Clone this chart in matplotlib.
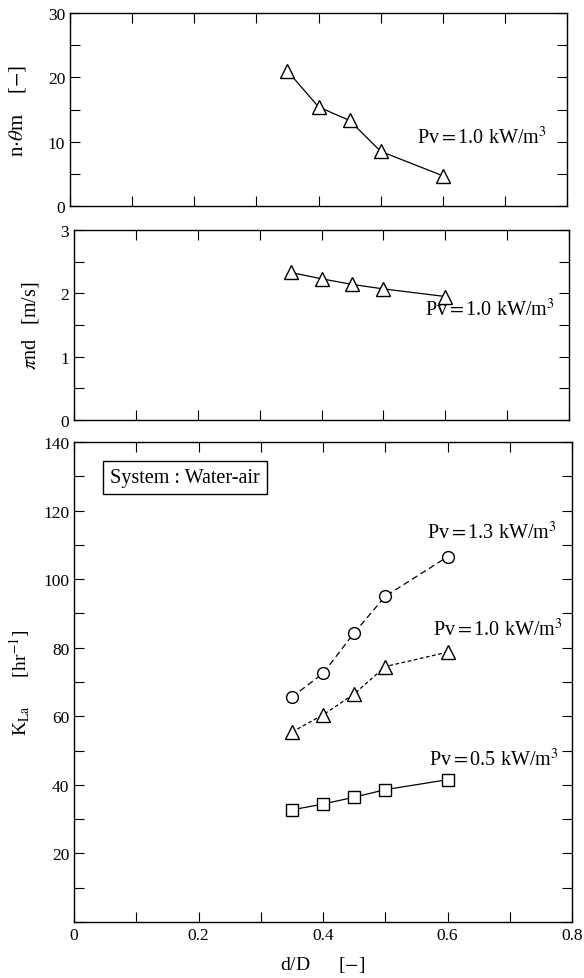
import numpy as np
import matplotlib.pyplot as plt
from matplotlib.ticker import MultipleLocator, FixedLocator, NullFormatter

plt.rcParams['font.family'] = ['Liberation Serif', 'DejaVu Serif']
plt.rcParams['mathtext.fontset'] = 'stix'

# data
dD = [0.35, 0.40, 0.45, 0.50, 0.60]
n_theta = [21.0, 15.4, 13.3, 8.5, 4.7]
pi_nd = [2.33, 2.23, 2.14, 2.07, 1.95]
kla_13 = [65.6, 72.5, 84.3, 95.0, 106.5]
kla_10 = [55.4, 60.4, 66.5, 74.5, 78.7]
kla_05 = [32.7, 34.4, 36.4, 38.6, 41.5]

fig = plt.figure(figsize=(5.84, 9.79), dpi=100)
ax1 = fig.add_axes([70/584, 1-207/979, 497/584, 193/979])
ax2 = fig.add_axes([74/584, 1-421/979, 495/584, 190/979])
ax3 = fig.add_axes([74/584, 1-923/979, 498/584, 480/979])

tri = dict(marker='^', ms=10, mfc='white', mec='black', mew=1.0, color='black', lw=0.9)
fs = 14.5

def style(ax):
    ax.set_xlim(0, 0.8)
    ax.xaxis.set_major_locator(MultipleLocator(0.1))
    ax.tick_params(direction='in', top=True, right=True, length=7, width=0.8, labelsize=12.5)
    ax.tick_params(which='minor', direction='in', top=True, right=True, length=7, width=0.8)
    for s in ax.spines.values():
        s.set_linewidth(1.0)

# top panel
ax1.plot(dD, n_theta, **tri)
style(ax1)
ax1.set_ylim(0, 30)
ax1.yaxis.set_major_locator(MultipleLocator(10))
ax1.yaxis.set_minor_locator(MultipleLocator(5))
ax1.xaxis.set_major_formatter(NullFormatter())
ax1.set_ylabel(r'n$\cdot\theta$m    [$-$]', fontsize=15, labelpad=14)
ax1.text(0.558, 10.7, 'Pv$=$1.0 kW/m$^3$', fontsize=fs, va='center')

# middle panel
ax2.plot(dD, pi_nd, **tri)
style(ax2)
ax2.set_ylim(0, 3)
ax2.yaxis.set_major_locator(MultipleLocator(1))
ax2.yaxis.set_minor_locator(MultipleLocator(0.5))
ax2.xaxis.set_major_formatter(NullFormatter())
ax2.set_ylabel(r'$\pi$nd   [m/s]', fontsize=14.5, labelpad=14)
ax2.text(0.567, 1.75, 'Pv$=$1.0 kW/m$^3$', fontsize=fs, va='center')

# bottom panel
ax3.plot(dD, kla_13, marker='o', ms=8.5, mfc='white', mec='black', mew=1.0,
         color='black', lw=0.9, ls=(0, (5, 3)))
ax3.plot(dD, kla_10, marker='^', ms=10, mfc='white', mec='black', mew=1.0,
         color='black', lw=0.9, ls=(0, (3, 2)))
ax3.plot(dD, kla_05, marker='s', ms=8.5, mfc='white', mec='black', mew=1.0,
         color='black', lw=0.9)
style(ax3)
ax3.set_ylim(0, 140)
ax3.yaxis.set_major_locator(FixedLocator([20, 40, 60, 80, 100, 120, 140]))
ax3.yaxis.set_minor_locator(MultipleLocator(10))
ax3.xaxis.set_major_locator(FixedLocator([0, 0.2, 0.4, 0.6, 0.8]))
ax3.xaxis.set_minor_locator(MultipleLocator(0.1))
ax3.set_xticklabels(['0', '0.2', '0.4', '0.6', '0.8'])
ax3.set_ylabel(r'K$_{\rm La}$      [hr$^{-1}$]', fontsize=14, labelpad=8)
ax3.set_xlabel(r'd/D      [$-$]', fontsize=14, labelpad=8)
ax3.text(0.567, 113.7, 'Pv$=$1.3 kW/m$^3$', fontsize=fs, va='center')
ax3.text(0.576, 85.4, 'Pv$=$1.0 kW/m$^3$', fontsize=fs, va='center')
ax3.text(0.57, 47.5, 'Pv$=$0.5 kW/m$^3$', fontsize=fs, va='center')
ax3.text(0.058, 129.6, 'System : Water-air', fontsize=fs, va='center',
         bbox=dict(boxstyle='square,pad=0.35', fc='white', ec='black', lw=1.0))

fig.savefig('out.png', dpi=100)
